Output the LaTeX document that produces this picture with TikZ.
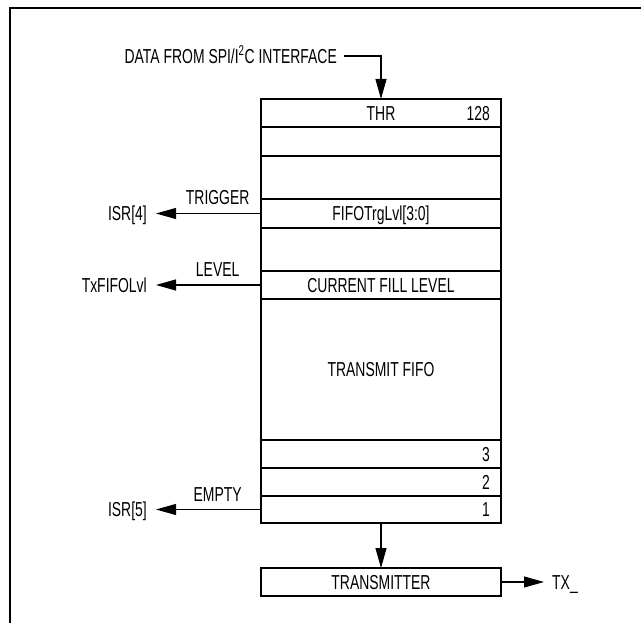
\documentclass[tikz,border=0pt]{standalone}
\usepackage{fontspec}
\setmainfont{Liberation Sans}[FakeStretch=0.69]
\usetikzlibrary{arrows.meta,positioning}

\tikzset{
  fiforow/.style={draw, line width=1.1pt, minimum width=240pt, inner sep=0pt,
    outer sep=0pt, text height=14.4pt, text depth=0pt},
  lbl/.style={inner sep=0pt, text height=14.4pt, text depth=0pt},
  sig/.style={-{Triangle[length=20pt,width=11pt]}, line width=1.1pt},
}

\begin{document}
\begin{tikzpicture}[x=1pt, y=-1pt, font=\fontsize{20.2}{23}\selectfont]
  \useasboundingbox (0,0) rectangle (641,623);
  % frame
  \draw[line width=1.4pt] (10,623) -- (10,8) -- (641,8);

  % the fifo, top to bottom
  \node[fiforow, minimum height=28pt, anchor=north] (thr) at (381,99) {THR};
  \node[fiforow, minimum height=29pt, below=0pt of thr] (gapa) {};
  \node[fiforow, minimum height=43pt, below=0pt of gapa] (gapb) {};
  \node[fiforow, minimum height=29pt, below=0pt of gapb] (trglvl) {FIFOTrgLvl[3:0]};
  \node[fiforow, minimum height=43pt, below=0pt of trglvl] (gapc) {};
  \node[fiforow, minimum height=28pt, below=0pt of gapc] (filllvl) {CURRENT FILL LEVEL};
  \node[fiforow, minimum height=141pt, below=0pt of filllvl] (txfifo) {TRANSMIT FIFO};
  \node[fiforow, minimum height=28pt, below=0pt of txfifo] (slot3) {};
  \node[fiforow, minimum height=28pt, below=0pt of slot3] (slot2) {};
  \node[fiforow, minimum height=27pt, below=0pt of slot2] (slot1) {};
  \node[lbl, anchor=east] (n128) at ([xshift=-11pt]thr.east) {128};
  \node[lbl, anchor=east] (n3) at ([xshift=-11pt]slot3.east) {3};
  \node[lbl, anchor=east] (n2) at ([xshift=-11pt]slot2.east) {2};
  \node[lbl, anchor=east] (n1) at ([xshift=-11pt]slot1.east) {1};

  \node[fiforow, minimum height=28pt, anchor=north] (txr) at (381,568) {TRANSMITTER};

  % input
  \node[lbl, anchor=east] (src) at (337,56) {DATA FROM SPI/I\textsuperscript{2}C INTERFACE};
  \draw[sig] ([xshift=7pt]src.east) -| (thr.north);

  % outputs
  \node[lbl, left=114pt of trglvl.west] (isr4) {ISR[4]};
  \node[lbl, left=114pt of filllvl.west] (fifolvl) {TxFIFOLvl};
  \node[lbl, left=114pt of slot1.west] (isr5) {ISR[5]};
  \node[lbl, right=51pt of txr.east] (tx) {TX\_};

  \draw[sig, shorten >=9pt] (trglvl) -- (isr4) node[lbl, pos=0.38, above=8pt] (trg) {TRIGGER};
  \draw[sig, shorten >=9pt] (filllvl) -- (fifolvl) node[lbl, pos=0.38, above=8pt] (lvl) {LEVEL};
  \draw[sig, shorten >=9pt] (slot1) -- (isr5) node[lbl, pos=0.38, above=7pt] (emp) {EMPTY};
  \draw[sig] (slot1) -- (txr);
  \draw[sig, shorten >=8pt] (txr) -- (tx);
\end{tikzpicture}
\end{document}
